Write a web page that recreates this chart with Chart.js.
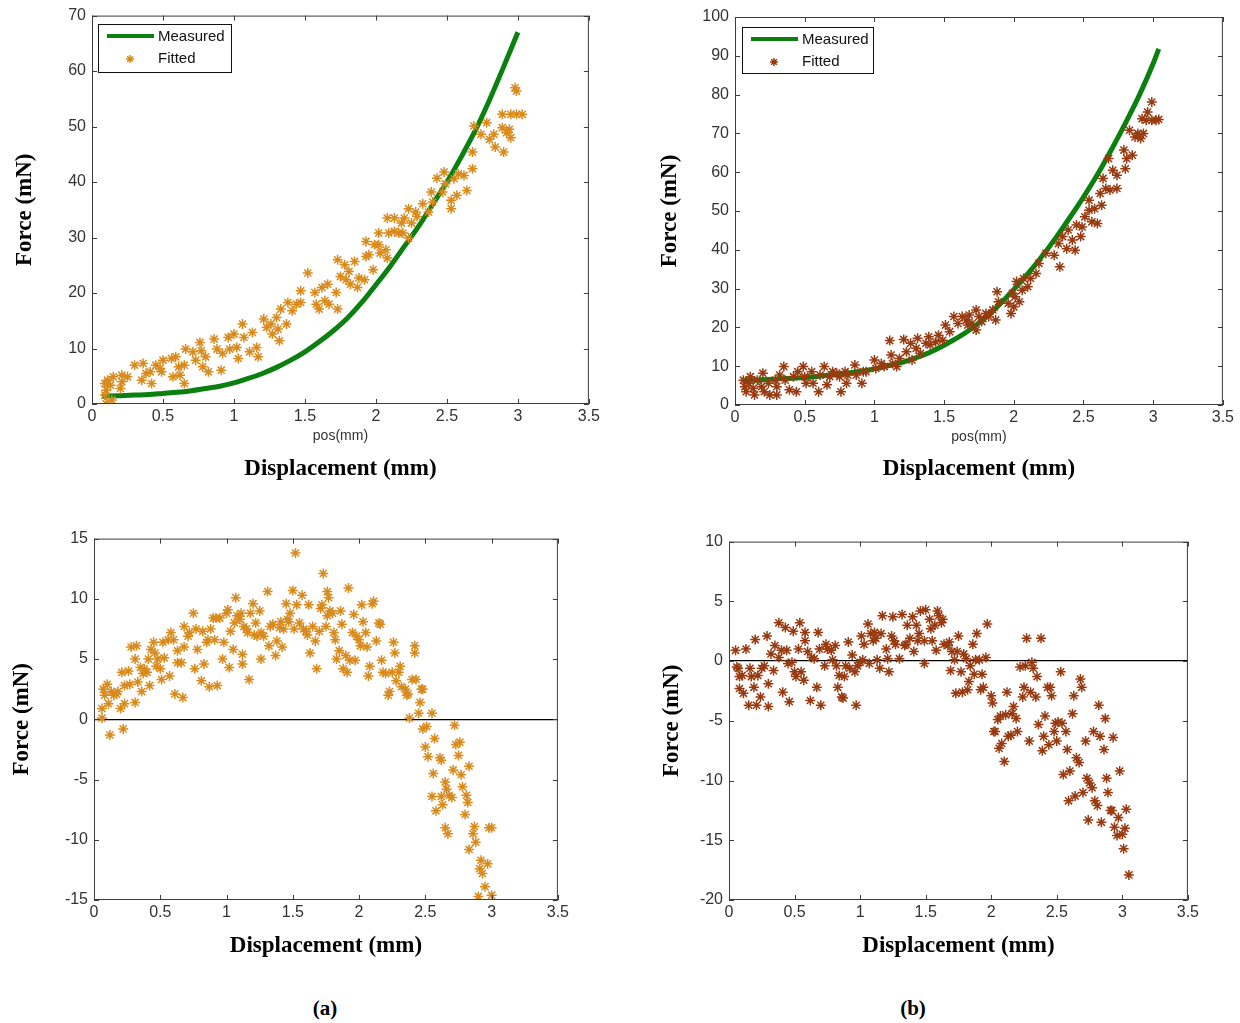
<!DOCTYPE html>
<html>
<head>
<meta charset="utf-8">
<script src="https://cdn.jsdelivr.net/npm/chart.js@4.4.0/dist/chart.umd.min.js"></script>
<style>
  body { margin: 0; background: #fff; }
  #page { position: relative; width: 1240px; height: 1023px; background: #fff; overflow: hidden; }
  canvas { position: absolute; }
  .tag { position: absolute; transform: translate(-50%, -50%); font: bold 21px "Liberation Serif", "Times New Roman", serif; color: #000; }
</style>
</head>
<body>
<div id="page">
  <canvas id="forceA" width="603" height="486" style="left:0px;top:0px"></canvas>
  <canvas id="forceB" width="582" height="486" style="left:655px;top:0px"></canvas>
  <canvas id="errA" width="572" height="440" style="left:0px;top:523px"></canvas>
  <canvas id="errB" width="543" height="437" style="left:659px;top:526px"></canvas>
  <div class="tag" style="left:325px;top:1008px">(a)</div>
  <div class="tag" style="left:913px;top:1008px">(b)</div>
</div>
<script>
// tick positions
const xTicks = [0, 0.5, 1, 1.5, 2, 2.5, 3, 3.5];
const yTicksA = [0, 10, 20, 30, 40, 50, 60, 70];
const yTicksB = [0, 10, 20, 30, 40, 50, 60, 70, 80, 90, 100];
const yTicksErrA = [-15, -10, -5, 0, 5, 10, 15];
const yTicksErrB = [-20, -15, -10, -5, 0, 5, 10];

// measured force curves [pos, force]
const measuredA = [[0.07,1.4],[0.2,1.5],[0.3,1.6],[0.4,1.7],[0.5,1.9],[0.6,2.1],[0.7,2.4],[0.8,2.8],[0.9,3.2],[1.0,3.8],
  [1.1,4.6],[1.2,5.5],[1.3,6.6],[1.4,7.9],[1.5,9.4],[1.6,11.2],[1.7,13.2],[1.8,15.5],[1.9,18.3],[2.0,21.5],
  [2.1,24.8],[2.2,28.4],[2.3,32.0],[2.4,36.0],[2.5,40.0],[2.6,44.5],[2.7,49.3],[2.8,54.8],[2.9,60.8],[3.0,67.0]];
const measuredB = [[0.06,6.3],[0.2,6.5],[0.3,6.7],[0.4,6.9],[0.5,7.1],[0.6,7.4],[0.7,7.8],[0.8,8.2],[0.9,8.7],[1.0,9.3],
  [1.1,10.1],[1.2,11.0],[1.3,12.2],[1.4,13.6],[1.5,15.4],[1.6,17.4],[1.7,19.8],[1.8,22.6],[1.9,26.0],[2.0,29.8],
  [2.1,33.8],[2.2,38.2],[2.3,43.0],[2.4,48.2],[2.5,53.6],[2.6,59.4],[2.7,65.8],[2.8,72.6],[2.9,79.8],[3.0,88.0],[3.04,91.8]];

// fitted force samples
const fittedA = [[0.09,3.7],[0.11,4.3],[0.13,3.4],[0.10,2.5],[0.09,1.6],[0.15,4.9],[0.14,0.7],[0.10,0.1],[0.21,5.2],[0.21,4.0],
  [0.25,4.9],[0.20,2.8],[0.30,7.0],[0.36,7.3],[0.35,4.3],[0.38,5.5],[0.41,5.8],[0.42,3.7],[0.45,7.0],[0.48,6.4],
  [0.49,5.8],[0.50,7.9],[0.56,8.2],[0.57,4.9],[0.59,8.5],[0.61,6.7],[0.62,5.2],[0.65,3.7],[0.66,9.9],[0.65,7.0],
  [0.71,9.4],[0.73,7.9],[0.76,11.1],[0.77,9.6],[0.78,6.7],[0.80,8.5],[0.82,5.8],[0.86,11.7],[0.88,9.9],[0.91,6.1],
  [0.92,9.1],[0.96,12.0],[0.97,9.9],[1.00,12.6],[1.02,10.2],[1.03,8.2],[1.06,14.4],[1.07,12.0],[1.11,9.4],[1.13,12.9],
  [1.16,10.2],[1.17,8.5],[1.21,15.3],[1.23,13.8],[1.26,14.4],[1.27,12.6],[1.30,15.6],[1.31,13.5],[1.32,11.4],[1.33,17.1],
  [1.37,14.4],[1.38,18.3],[1.41,16.8],[1.44,18.0],[1.47,20.4],[1.47,18.3],[1.52,23.6],[1.57,20.1],[1.58,18.0],[1.60,17.1],
  [1.62,21.0],[1.64,18.6],[1.66,21.6],[1.67,18.0],[1.72,20.1],[1.73,26.0],[1.73,17.1],[1.75,23.0],[1.78,25.1],[1.79,22.4],
  [1.81,23.9],[1.82,21.6],[1.85,25.7],[1.87,21.0],[1.88,22.7],[1.92,22.4],[1.93,29.3],[1.93,26.6],[1.95,26.9],[1.98,24.2],
  [1.99,28.7],[2.02,28.7],[2.03,27.2],[2.07,27.8],[2.08,33.5],[2.08,26.3],[2.02,30.8],[2.09,30.8],[2.13,33.5],[2.13,31.1],
  [2.16,30.8],[2.18,32.6],[2.19,30.8],[2.20,33.5],[2.23,35.2],[2.23,29.9],[2.25,32.6],[2.28,34.6],[2.29,33.8],[2.33,36.1],
  [2.37,34.6],[2.39,38.2],[2.40,36.4],[2.43,40.7],[2.47,38.2],[2.48,41.8],[2.49,39.7],[2.53,36.7],[2.53,35.2],[2.55,40.6],
  [2.57,37.6],[2.58,41.5],[2.62,41.2],[2.64,38.5],[2.68,42.4],[2.68,45.4],[2.69,50.1],[2.74,48.6],[2.78,50.7],[2.80,47.7],
  [2.83,48.6],[2.84,46.3],[2.89,49.8],[2.90,45.4],[2.92,48.9],[2.94,49.5],[2.95,48.0],[2.89,52.2],[2.95,52.2],[2.99,52.2],
  [3.03,52.2],[2.98,57.0],[2.99,56.4]];
const fittedB = [[0.06,6.4],[0.07,4.7],[0.08,3.4],[0.10,5.6],[0.11,7.3],[0.13,4.3],[0.14,2.6],[0.16,6.4],[0.19,4.7],[0.20,8.2],
  [0.21,3.4],[0.24,5.6],[0.25,2.6],[0.29,6.4],[0.30,4.7],[0.30,2.6],[0.32,7.7],[0.35,9.9],[0.36,6.4],[0.39,3.9],
  [0.42,7.3],[0.44,3.4],[0.45,8.6],[0.49,9.9],[0.50,7.3],[0.51,5.6],[0.55,8.6],[0.56,5.6],[0.60,3.4],[0.61,7.7],
  [0.64,9.9],[0.66,5.2],[0.68,7.3],[0.70,8.6],[0.73,8.2],[0.75,7.3],[0.76,3.4],[0.79,8.6],[0.80,5.6],[0.81,7.7],
  [0.86,10.3],[0.87,7.7],[0.91,5.6],[0.92,8.6],[0.94,8.6],[1.00,11.6],[1.01,9.4],[1.05,10.7],[1.07,9.9],[1.11,16.6],
  [1.12,12.9],[1.13,10.7],[1.16,9.9],[1.18,12.0],[1.21,16.9],[1.23,13.7],[1.26,15.9],[1.27,11.6],[1.30,14.6],[1.31,17.2],
  [1.33,13.3],[1.37,15.9],[1.39,17.6],[1.40,15.5],[1.44,16.3],[1.46,18.0],[1.49,16.7],[1.51,20.6],[1.54,18.9],[1.57,22.8],
  [1.60,21.0],[1.63,22.8],[1.66,21.9],[1.67,20.6],[1.68,23.2],[1.70,21.0],[1.73,24.5],[1.73,19.3],[1.75,22.8],[1.77,21.5],
  [1.80,23.6],[1.82,22.8],[1.85,24.5],[1.87,21.9],[1.88,29.2],[1.89,26.6],[1.96,26.2],[1.98,23.6],[1.99,28.8],[2.00,25.3],
  [2.01,27.9],[2.02,31.8],[2.04,26.6],[2.06,29.6],[2.07,32.6],[2.10,30.5],[2.12,32.6],[2.16,33.9],[2.18,36.5],[2.23,39.1],
  [2.29,38.6],[2.32,41.6],[2.33,35.6],[2.35,43.4],[2.38,40.3],[2.39,45.1],[2.42,42.5],[2.44,39.9],[2.45,46.4],[2.48,43.4],
  [2.49,45.9],[2.51,48.5],[2.54,52.8],[2.54,50.2],[2.56,47.2],[2.58,50.6],[2.60,46.8],[2.62,54.5],[2.63,51.5],[2.64,58.4],
  [2.66,55.8],[2.68,63.5],[2.69,55.4],[2.71,60.5],[2.74,59.2],[2.74,55.8],[2.79,65.7],[2.80,60.9],[2.81,63.5],[2.83,70.8],
  [2.85,64.4],[2.87,69.1],[2.89,70.0],[2.91,68.7],[2.93,70.0],[2.92,73.8],[2.95,73.4],[2.96,75.5],[2.99,78.1],[2.99,73.4],
  [3.02,73.4],[3.04,73.6]];

// force difference (fitted - measured)
const diffA = [[0.06,0.9],[0.06,0.1],[0.07,2.5],[0.10,2.9],[0.08,2.0],[0.11,1.3],[0.12,-1.3],[0.13,2.3],[0.15,2.0],[0.17,2.1],
  [0.18,2.3],[0.20,0.9],[0.21,3.9],[0.22,-0.8],[0.23,2.8],[0.23,1.3],[0.26,4.0],[0.27,2.9],[0.28,6.0],[0.31,5.0],
  [0.32,6.1],[0.31,1.4],[0.33,3.1],[0.35,4.3],[0.36,2.3],[0.37,3.8],[0.38,4.2],[0.40,3.9],[0.41,5.0],[0.42,2.8],
  [0.43,5.8],[0.45,6.4],[0.46,5.5],[0.47,4.4],[0.48,5.0],[0.50,4.2],[0.51,3.3],[0.52,6.4],[0.53,5.1],[0.56,6.6],
  [0.57,3.6],[0.58,7.2],[0.60,6.6],[0.61,2.1],[0.63,5.7],[0.63,4.7],[0.66,4.7],[0.67,1.8],[0.68,7.7],[0.68,6.0],
  [0.71,6.9],[0.72,7.2],[0.75,8.8],[0.76,4.2],[0.77,7.5],[0.78,5.8],[0.81,3.2],[0.82,7.3],[0.83,4.6],[0.85,6.4],
  [0.86,6.6],[0.87,2.7],[0.88,7.5],[0.90,8.4],[0.91,6.6],[0.92,8.4],[0.93,2.8],[0.95,8.4],[0.97,5.0],[0.98,6.4],
  [1.00,8.8],[1.01,9.1],[1.02,4.3],[1.03,7.3],[1.05,5.8],[1.06,8.0],[1.07,10.1],[1.08,8.6],[1.10,8.3],[1.11,8.8],
  [1.12,5.4],[1.12,4.6],[1.13,7.7],[1.15,7.5],[1.16,7.2],[1.17,3.3],[1.18,8.8],[1.20,9.6],[1.21,7.0],[1.22,8.0],
  [1.23,6.9],[1.25,9.0],[1.26,7.2],[1.26,5.0],[1.28,6.9],[1.31,10.6],[1.32,6.1],[1.33,7.7],[1.35,7.9],[1.37,5.3],
  [1.38,6.5],[1.40,7.6],[1.41,8.1],[1.42,6.0],[1.43,7.5],[1.45,9.6],[1.46,8.3],[1.47,8.1],[1.48,8.8],[1.50,10.7],
  [1.51,7.5],[1.52,13.8],[1.53,9.5],[1.55,8.0],[1.57,10.3],[1.58,7.5],[1.60,7.3],[1.61,7.0],[1.62,9.5],[1.63,5.5],
  [1.65,7.7],[1.67,6.5],[1.68,4.2],[1.70,7.3],[1.71,9.2],[1.72,9.5],[1.73,12.1],[1.75,7.7],[1.76,10.6],[1.76,8.6],
  [1.77,10.1],[1.78,9.0],[1.80,8.8],[1.81,7.2],[1.82,6.6],[1.83,5.0],[1.85,5.7],[1.86,9.0],[1.87,7.9],[1.88,4.2],
  [1.90,5.3],[1.91,3.9],[1.92,10.9],[1.93,4.9],[1.95,7.2],[1.96,8.7],[1.97,4.9],[1.98,6.9],[2.00,6.6],[2.01,6.1],
  [2.02,9.5],[2.03,8.1],[2.05,7.2],[2.06,6.0],[2.07,3.6],[2.08,4.4],[2.10,9.6],[2.11,9.8],[2.13,6.5],[2.15,8.0],
  [2.16,7.9],[2.17,4.9],[2.18,3.9],[2.20,3.8],[2.22,2.0],[2.23,2.3],[2.25,3.9],[2.26,6.4],[2.27,5.5],[2.28,3.2],
  [2.30,3.9],[2.31,4.4],[2.32,2.7],[2.35,2.5],[2.36,2.0],[2.37,2.1],[2.38,0.1],[2.40,3.3],[2.42,6.1],[2.42,5.5],
  [2.43,3.3],[2.45,0.5],[2.46,1.4],[2.47,2.5],[2.48,2.5],[2.48,-0.8],[2.50,-2.3],[2.51,-0.6],[2.52,-3.1],[2.55,0.5],
  [2.56,-4.5],[2.57,-1.6],[2.55,-6.4],[2.58,-7.6],[2.61,-3.2],[2.62,-3.4],[2.62,-6.4],[2.63,-7.1],[2.65,-9.0],[2.65,-5.2],
  [2.66,-5.8],[2.67,-9.5],[2.68,-6.3],[2.70,-6.5],[2.71,-4.2],[2.72,-0.5],[2.73,-2.1],[2.75,-3.0],[2.76,-1.9],[2.77,-4.6],
  [2.78,-5.6],[2.80,-7.9],[2.81,-6.3],[2.82,-6.9],[2.83,-3.9],[2.83,-10.8],[2.86,-9.5],[2.87,-8.9],[2.88,-10.2],[2.90,-14.7],
  [2.91,-12.4],[2.92,-11.7],[2.93,-12.8],[2.95,-13.9],[2.97,-12.0],[2.98,-9.0],[3.00,-14.6],[3.00,-9.0]];
const diffB = [[0.05,0.9],[0.06,-0.5],[0.07,-0.6],[0.08,-2.3],[0.08,-1.3],[0.10,-1.2],[0.11,-2.7],[0.13,1.0],[0.15,-3.7],[0.16,-0.6],
  [0.17,-1.3],[0.19,-2.2],[0.20,1.8],[0.21,-3.7],[0.22,-1.2],[0.24,-3.0],[0.25,-0.6],[0.27,-0.4],[0.29,2.1],[0.30,-1.9],
  [0.30,-3.8],[0.32,0.6],[0.34,-0.8],[0.35,1.3],[0.38,3.2],[0.38,0.3],[0.40,0.9],[0.41,-2.6],[0.43,2.8],[0.44,0.9],
  [0.45,-0.2],[0.46,-3.4],[0.48,-0.1],[0.49,2.5],[0.50,-0.9],[0.51,-1.3],[0.53,1.0],[0.54,3.2],[0.55,-0.9],[0.57,-1.6],
  [0.58,2.4],[0.58,1.7],[0.60,0.8],[0.62,-3.3],[0.63,0.3],[0.65,0.2],[0.67,-2.2],[0.68,2.4],[0.69,1.0],[0.70,-3.7],
  [0.73,-0.4],[0.74,1.4],[0.75,1.0],[0.78,0.9],[0.79,0.1],[0.81,1.3],[0.82,-0.4],[0.83,-2.2],[0.84,-1.2],[0.86,-3.0],
  [0.87,-3.1],[0.88,-1.3],[0.89,-0.4],[0.91,1.6],[0.92,-0.6],[0.94,0.5],[0.96,-0.9],[0.97,-3.7],[0.98,-0.4],[1.00,-0.1],
  [1.01,2.1],[1.02,0.1],[1.03,1.4],[1.06,3.1],[1.07,-0.2],[1.08,2.3],[1.10,1.7],[1.11,2.4],[1.12,1.9],[1.13,0.1],
  [1.15,-0.6],[1.16,2.3],[1.17,3.8],[1.20,1.0],[1.21,0.2],[1.22,-0.9],[1.24,2.1],[1.25,3.7],[1.26,1.7],[1.27,1.4],
  [1.30,0.2],[1.32,3.9],[1.34,1.3],[1.35,1.4],[1.36,3.0],[1.38,1.9],[1.40,3.7],[1.41,0.8],[1.43,3.0],[1.44,1.7],
  [1.45,2.3],[1.46,4.2],[1.49,1.7],[1.49,-0.2],[1.50,4.3],[1.53,3.5],[1.54,2.7],[1.55,1.7],[1.57,3.0],[1.58,0.9],
  [1.59,4.2],[1.60,3.8],[1.62,3.2],[1.63,3.5],[1.64,1.4],[1.67,1.3],[1.68,1.6],[1.69,-0.8],[1.70,0.8],[1.72,0.1],
  [1.73,-2.7],[1.74,0.8],[1.75,2.1],[1.77,-0.9],[1.78,-2.6],[1.79,0.6],[1.81,0.2],[1.82,-2.4],[1.83,-1.7],[1.84,-0.4],
  [1.86,1.4],[1.87,-1.1],[1.88,0.1],[1.89,2.3],[1.91,0.1],[1.92,-2.4],[1.93,-1.1],[1.94,-2.2],[1.96,0.3],[1.97,3.1],
  [2.00,-2.9],[2.01,-3.5],[2.02,-5.9],[2.03,-5.9],[2.05,-4.9],[2.06,-7.3],[2.07,-4.6],[2.08,-6.9],[2.10,-8.4],[2.11,-4.5],
  [2.12,-2.6],[2.13,-6.3],[2.15,-6.2],[2.16,-4.4],[2.17,-3.8],[2.19,-4.8],[2.20,-5.9],[2.22,-0.5],[2.24,-3.0],[2.25,-2.2],
  [2.26,-0.4],[2.27,1.9],[2.29,-6.7],[2.30,-2.6],[2.31,-0.1],[2.32,-0.6],[2.34,-3.0],[2.35,-1.3],[2.36,-5.3],[2.38,1.9],
  [2.39,-7.5],[2.40,-6.3],[2.41,-4.6],[2.43,-2.2],[2.44,-7.0],[2.45,-2.2],[2.46,-2.9],[2.48,-5.9],[2.49,-5.2],[2.50,-6.7],
  [2.51,-5.1],[2.53,-0.9],[2.54,-5.2],[2.55,-9.5],[2.57,-5.9],[2.58,-7.4],[2.59,-11.7],[2.60,-9.2],[2.62,-4.4],[2.63,-2.9],
  [2.64,-11.3],[2.65,-8.1],[2.67,-8.5],[2.68,-1.5],[2.69,-2.2],[2.70,-11.0],[2.72,-6.7],[2.73,-9.8],[2.74,-13.3],[2.75,-10.2],
  [2.77,-10.6],[2.78,-5.9],[2.79,-11.7],[2.81,-12.1],[2.82,-3.7],[2.83,-6.3],[2.84,-13.5],[2.86,-7.4],[2.87,-4.8],[2.88,-9.8],
  [2.89,-11.0],[2.91,-12.5],[2.92,-12.5],[2.93,-6.4],[2.94,-13.9],[2.96,-14.6],[2.97,-13.1],[2.98,-9.2],[3.00,-14.5],[3.01,-15.7],
  [3.02,-14.0],[3.03,-12.4],[3.05,-17.9]];

const GREEN = '#0b800f';
const ORANGE = '#d98a1c';
const BROWN = '#983a10';
const SANS = '"Liberation Sans", Arial, sans-serif';
const SERIF = '"Liberation Serif", "Times New Roman", serif';

const toXY = arr => arr.map(([x, y]) => ({ x, y }));

// axes box with inward tick marks on all four sides
const frame = {
  id: 'frame',
  afterDraw(chart) {
    const { ctx, chartArea: a, scales: { x, y } } = chart;
    ctx.save();
    ctx.strokeStyle = '#3c3c3c';
    ctx.lineWidth = 1;
    ctx.strokeRect(a.left + 0.5, a.top + 0.5, a.right - a.left - 1, a.bottom - a.top - 1);
    ctx.beginPath();
    x.ticks.forEach(t => {
      const px = Math.round(x.getPixelForValue(t.value)) + 0.5;
      ctx.moveTo(px, a.bottom); ctx.lineTo(px, a.bottom - 5);
      ctx.moveTo(px, a.top); ctx.lineTo(px, a.top + 5);
    });
    y.ticks.forEach(t => {
      const py = Math.round(y.getPixelForValue(t.value)) + 0.5;
      ctx.moveTo(a.left, py); ctx.lineTo(a.left + 5, py);
      ctx.moveTo(a.right, py); ctx.lineTo(a.right - 5, py);
    });
    ctx.stroke();
    ctx.restore();
  }
};

// boxed legend sitting inside the plot area
const boxLegend = {
  id: 'boxLegend',
  afterDraw(chart, args, opts) {
    const { ctx, chartArea: a } = chart;
    const [line, pts] = chart.data.datasets;
    const x = Math.round(a.left + opts.dx), y = Math.round(a.top + opts.dy);
    ctx.save();
    ctx.fillStyle = '#fff';
    ctx.fillRect(x, y, opts.w, opts.h);
    ctx.strokeStyle = '#111';
    ctx.lineWidth = 1;
    ctx.strokeRect(x + 0.5, y + 0.5, opts.w, opts.h);
    ctx.strokeStyle = line.borderColor;
    ctx.lineWidth = 4;
    ctx.beginPath();
    ctx.moveTo(x + 9, y + 12); ctx.lineTo(x + 56, y + 12);
    ctx.stroke();
    const cx = x + 32, cy = y + 35, r = 4, d = r * Math.SQRT1_2;
    ctx.strokeStyle = pts.borderColor;
    ctx.lineWidth = 1.5;
    ctx.beginPath();
    ctx.moveTo(cx - r, cy); ctx.lineTo(cx + r, cy);
    ctx.moveTo(cx, cy - r); ctx.lineTo(cx, cy + r);
    ctx.moveTo(cx - d, cy - d); ctx.lineTo(cx + d, cy + d);
    ctx.moveTo(cx - d, cy + d); ctx.lineTo(cx + d, cy - d);
    ctx.stroke();
    ctx.fillStyle = '#111';
    ctx.font = '15px ' + SANS;
    ctx.textBaseline = 'middle';
    ctx.fillText(line.label, x + 60, y + 13);
    ctx.fillText(pts.label, x + 60, y + 35);
    ctx.restore();
  }
};

function starSet(label, data, color) {
  return {
    label, data: toXY(data), order: 0,
    pointStyle: 'star', pointRadius: 5, pointBorderWidth: 1.5,
    borderColor: color, backgroundColor: color, showLine: false
  };
}

function lineSet(label, data) {
  return {
    type: 'line', label, data: toXY(data), order: 1,
    borderColor: GREEN, borderWidth: 5, pointRadius: 0,
    cubicInterpolationMode: 'monotone', fill: false
  };
}

function makePanel(id, p) {
  return new Chart(document.getElementById(id), {
    type: 'scatter',
    data: { datasets: p.datasets },
    options: {
      responsive: false,
      animation: false,
      layout: { padding: { top: p.padTop, right: 12, bottom: 0, left: 0 } },
      plugins: {
        legend: { display: false },
        tooltip: { enabled: false },
        title: {
          display: true, position: 'bottom', fullSize: false,
          text: 'Displacement (mm)', color: '#000',
          font: { family: SERIF, size: 23, weight: 'bold', lineHeight: '26px' },
          padding: { top: p.titleGap, bottom: 4 }
        },
        boxLegend: p.legend || false
      },
      scales: {
        x: {
          type: 'linear', min: 0, max: 3.5,
          afterBuildTicks: s => { s.ticks = xTicks.map(v => ({ value: v })); },
          afterFit: s => { s.height = p.xHeight; },
          grid: { display: false, drawTicks: false },
          border: { display: false },
          ticks: { padding: 3, color: '#333', font: { family: SANS, size: 16 }, maxRotation: 0, autoSkip: false, callback: v => String(v) },
          title: p.xLabel
            ? { display: true, text: p.xLabel, color: '#333', font: { family: SANS, size: 14 }, padding: { top: 0, bottom: 0 } }
            : { display: false }
        },
        y: {
          type: 'linear', min: p.yTicks[0], max: p.yTicks[p.yTicks.length - 1],
          afterBuildTicks: s => { s.ticks = p.yTicks.map(v => ({ value: v })); },
          afterFit: s => { s.width = p.yWidth; },
          grid: p.zeroLine
            ? { display: true, drawTicks: false, lineWidth: 1.2, color: c => c.tick && c.tick.value === 0 ? '#000' : 'rgba(0,0,0,0)' }
            : { display: false, drawTicks: false },
          border: { display: false },
          ticks: { padding: 6, color: '#333', font: { family: SANS, size: 16 }, autoSkip: false },
          title: {
            display: true, text: 'Force (mN)', color: '#000',
            font: { family: SERIF, size: 23, weight: 'bold', lineHeight: '26px' },
            padding: { top: p.yTitlePad, bottom: 0 }
          }
        }
      }
    },
    plugins: [frame, boxLegend]
  });
}

makePanel('forceA', {
  datasets: [lineSet('Measured', measuredA), starSet('Fitted', fittedA, ORANGE)],
  yTicks: yTicksA, padTop: 12, yWidth: 92, yTitlePad: 12, xHeight: 41, xLabel: 'pos(mm)', titleGap: 11,
  legend: { dx: 6, dy: 8, w: 133, h: 48 }
});
makePanel('forceB', {
  datasets: [lineSet('Measured', measuredB), starSet('Fitted', fittedB, BROWN)],
  yTicks: yTicksB, padTop: 17, yWidth: 80, yTitlePad: 2, xHeight: 41, xLabel: 'pos(mm)', titleGap: 10,
  legend: { dx: 7, dy: 10, w: 131, h: 46 }
});
makePanel('errA', {
  datasets: [starSet('Difference', diffA, ORANGE)],
  yTicks: yTicksErrA, padTop: 12, yWidth: 94, yTitlePad: 9, xHeight: 22, titleGap: 11, zeroLine: true
});
makePanel('errB', {
  datasets: [starSet('Difference', diffB, BROWN)],
  yTicks: yTicksErrB, padTop: 12, yWidth: 70, yTitlePad: 0, xHeight: 22, titleGap: 11, zeroLine: true
});
</script>
</body>
</html>
